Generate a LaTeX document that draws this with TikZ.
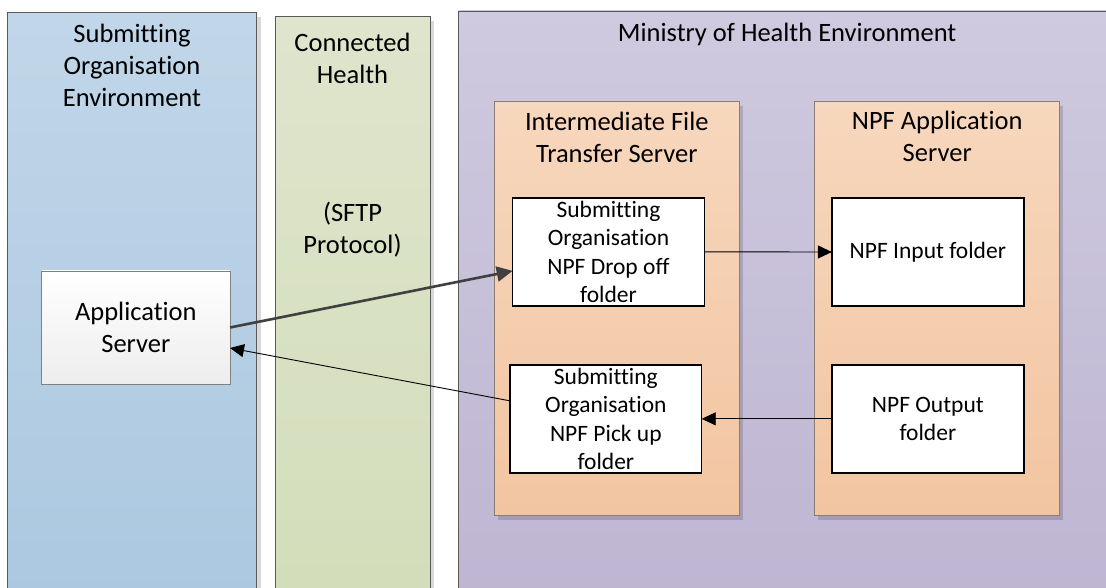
\documentclass[tikz,border=0pt]{standalone}
\usepackage{fontspec}
\setmainfont{Carlito}[Ligatures=NoCommon]
\usetikzlibrary{arrows.meta,shadows}

\definecolor{soetop}{HTML}{C1D6E9}
\definecolor{soebot}{HTML}{ABC8E0}
\definecolor{chtop}{HTML}{DFE5CC}
\definecolor{chbot}{HTML}{D3DDBA}
\definecolor{mohtop}{HTML}{CFCADF}
\definecolor{mohbot}{HTML}{BEB5D2}
\definecolor{srvtop}{HTML}{F7D7BD}
\definecolor{srvbot}{HTML}{F2C5A1}
\definecolor{srvline}{HTML}{8C7D70}
\definecolor{arrowgrey}{HTML}{404040}

\begin{document}
\begin{tikzpicture}[x=1pt,y=-1pt,inner sep=0,outer sep=0,
    panel/.style={draw=black!65,line width=0.8pt,anchor=north west,
      drop shadow={shadow xshift=4pt,shadow yshift=-4pt,fill=black,opacity=.15}},
    srvbox/.style={draw=srvline,line width=0.8pt,top color=srvtop,bottom color=srvbot,
      minimum width=245pt,minimum height=414pt,anchor=north west,
      drop shadow={shadow xshift=4pt,shadow yshift=-4pt,fill=black,opacity=.15}},
    folder/.style={draw=black,line width=1.4pt,fill=white,align=center,
      font=\fontsize{23.5}{28.3}\selectfont,minimum width=192pt,minimum height=108pt},
    paneltitle/.style={anchor=north,align=center,font=\fontsize{26.5}{32}\selectfont},
    flow/.style={line width=0.9pt,-{Triangle[length=14pt,width=13pt]}},
    bigflow/.style={arrowgrey,line width=2.6pt,-{Triangle[length=16pt,width=15pt]}}]

    \useasboundingbox (0,0) rectangle (1106,588);
    \clip (0,0) rectangle (1106,588);

    % Environments
    \node[panel,top color=soetop,bottom color=soebot,minimum width=249.4pt,minimum height=588pt] (soe) at (7.3,12.7) {};
    \node[panel,top color=chtop,bottom color=chbot,minimum width=155pt,minimum height=584pt] (ch) at (275,16.7) {};
    \node[panel,top color=mohtop,bottom color=mohbot,minimum width=662pt,minimum height=590pt] (moh) at (458.3,11) {};

    \node[paneltitle] (soetitle) at (132,20.6) {\strut Submitting\\Organisation\\Environment};
    \node[paneltitle] (chtitle) at (352.5,29.6) {\strut Connected\\Health};
    \node[paneltitle] (sftp) at (352.5,199.6) {\strut (SFTP\\Protocol)};
    \node[paneltitle] (mohtitle) at (787.2,19.3) {\strut Ministry of Health Environment};

    % Servers
    \node[srvbox] (ift) at (494.3,101.7) {};
    \node[srvbox] (npf) at (814.3,101.7) {};
    \node[paneltitle] (ifttitle) at (616.8,108.3) {\strut Intermediate File\\Transfer Server};
    \node[paneltitle] (npftitle) at (937.2,107.6) {\strut NPF Application\\Server};

    % Application server
    \node[draw=black!50,line width=0.8pt,top color=white,bottom color=black!7,
      minimum width=188.3pt,minimum height=113pt,align=center,
      font=\fontsize{26.5}{31.7}\selectfont] (app) at (135.85,327.5) {Application\\Server};

    % Folders
    \node[folder,minimum width=191.6pt] (drop) at (608.5,251.85) {Submitting\\Organisation\\NPF Drop off\\folder};
    \node[folder] (input) at (927.85,252) {NPF Input folder};
    \node[folder,minimum width=191.7pt] (pick) at (605.85,418.85) {Submitting\\Organisation\\NPF Pick up\\folder};
    \node[folder] (output) at (927.85,418.85) {NPF Output\\folder};

    % Arrows
    \draw[bigflow] (app.east) -- ([yshift=-19pt]drop.west);
    \draw[flow] (drop.east) -- (input.west);
    \draw[flow] (output.west) -- (pick.east);
    \draw[flow] ([yshift=18pt]pick.west) -- ([yshift=-20.5pt]app.east);

\end{tikzpicture}
\end{document}
